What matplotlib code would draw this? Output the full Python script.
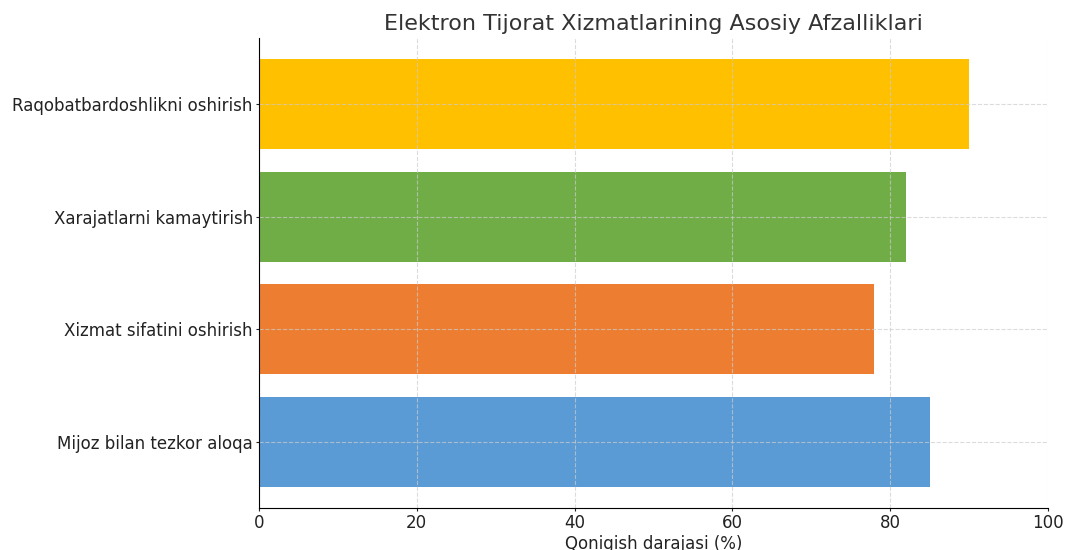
import matplotlib
matplotlib.use("Agg")
import matplotlib.pyplot as plt

categories = ["Mijoz bilan tezkor aloqa", "Xizmat sifatini oshirish",
              "Xarajatlarni kamaytirish", "Raqobatbardoshlikni oshirish"]
values = [85, 78, 82, 90]
colors = ["#5B9BD5", "#ED7D31", "#70AD47", "#FFC000"]

fig = plt.figure(figsize=(10.65, 5.5), dpi=100)
ax = fig.add_axes([259 / 1065, 42 / 550, 789 / 1065, 470 / 550])

ax.barh(categories, values, color=colors, height=0.8)
ax.set_xlim(0, 100)
ax.grid(True, linestyle="--", color="#cccccc", linewidth=0.8, alpha=0.7)
ax.set_axisbelow(False)
for s in ["top", "right"]:
    ax.spines[s].set_visible(False)
for s in ["left", "bottom"]:
    ax.spines[s].set_zorder(4)

ax.tick_params(labelsize=12, colors="#222222", length=2.5, pad=2)
ax.set_xlabel("Qonigish darajasi (%)", fontsize=12, color="#222222", labelpad=2)
ax.set_title("Elektron Tijorat Xizmatlarining Asosiy Afzalliklari", fontsize=16, color="#333333")

fig.savefig("out.png", dpi=100)
